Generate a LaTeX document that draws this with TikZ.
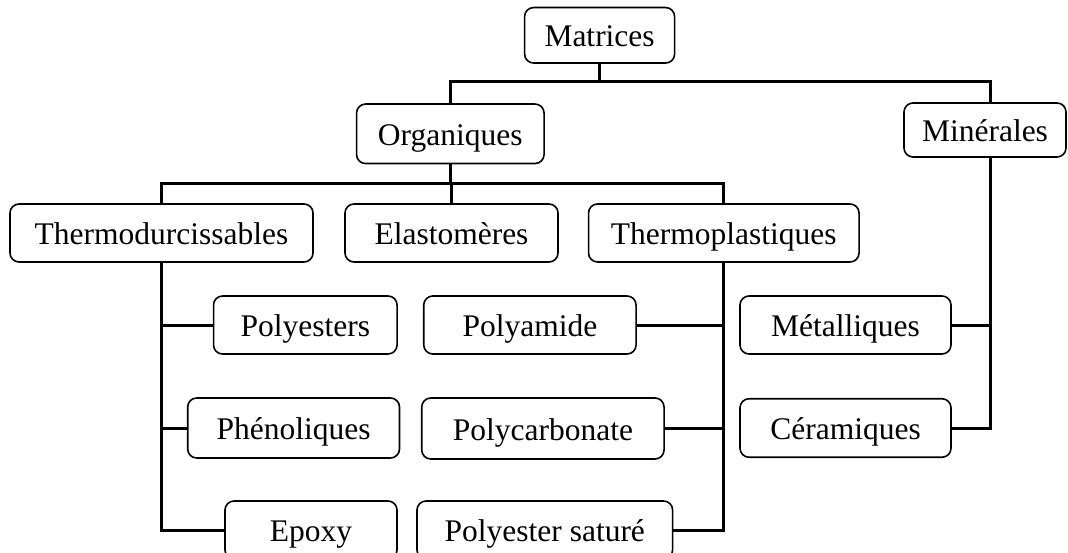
\documentclass[tikz,border=0pt]{standalone}
\usepackage{fontspec}
\setmainfont{Liberation Serif}
\begin{document}
\begin{tikzpicture}[x=1pt,y=-1pt,
  box/.style={draw, rounded corners=9pt, line width=1.6pt, inner sep=0pt,
    text height=24pt, text depth=1pt,
    font=\fontsize{31.5}{36}\selectfont},
  link/.style={line width=3pt},
]
\useasboundingbox (0,0) rectangle (1068,553);
\node[box, minimum width=150pt, minimum height=55.5pt] (mat) at (599.6,35.3) {Matrices};
\node[box, minimum width=187.5pt, minimum height=59.5pt] (org) at (450.3,133.8) {Organiques};
\node[box, minimum width=162pt, minimum height=54pt] (min) at (985,130) {Minérales};
\node[box, minimum width=303pt, minimum height=58pt] (thd) at (161.5,233) {Thermodurcissables};
\node[box, minimum width=213pt, minimum height=58pt] (ela) at (451.5,233) {Elastomères};
\node[box, minimum width=270.5pt, minimum height=58pt] (thp) at (723.8,233) {Thermoplastiques};
\node[box, minimum width=183.5pt, minimum height=58pt] (pes) at (305.3,325) {Polyesters};
\node[box, minimum width=211.8pt, minimum height=60pt] (phe) at (293.6,428) {Phénoliques};
\node[box, minimum width=172pt, minimum height=58pt] (epo) at (311,530) {Epoxy};
\node[box, minimum width=212.3pt, minimum height=58pt] (pam) at (529.9,325) {Polyamide};
\node[box, minimum width=242.3pt, minimum height=61pt] (pca) at (542.9,428.5) {Polycarbonate};
\node[box, minimum width=255.6pt, minimum height=58pt] (psa) at (544.8,530) {Polyester saturé};
\node[box, minimum width=211pt, minimum height=58pt] (met) at (845.5,325) {Métalliques};
\node[box, minimum width=211pt, minimum height=58.5pt] (cer) at (845.5,428) {Céramiques};
% junction coordinates
\coordinate (j1) at (599.6,82);
\coordinate (mtr) at (990,82);
\coordinate (j2) at (451,184);
% level 1
\draw[link] (mat.south) -- (j1);
\draw[link] (org.north) -- (org.north |- j1) -- (mtr) -- (mtr |- min.north);
% level 2
\draw[link] (org.south) -- (org.south |- j2);
\draw[link] (thd.north) -- (thd.north |- j2) -- (thp.north |- j2) -- (thp.north);
\draw[link] (ela.north) -- (ela.north |- j2);
% thermodurcissables
\draw[link] (thd.south) |- (epo.west);
\draw[link] (thd.south |- pes.west) -- (pes.west);
\draw[link] (thd.south |- phe.west) -- (phe.west);
% thermoplastiques
\draw[link] (thp.south) |- (psa.east);
\draw[link] (thp.south |- pam.east) -- (pam.east);
\draw[link] (thp.south |- pca.east) -- (pca.east);
% minerales
\draw[link] (mtr |- min.south) |- (cer.east);
\draw[link] (mtr |- met.east) -- (met.east);
\end{tikzpicture}
\end{document}
